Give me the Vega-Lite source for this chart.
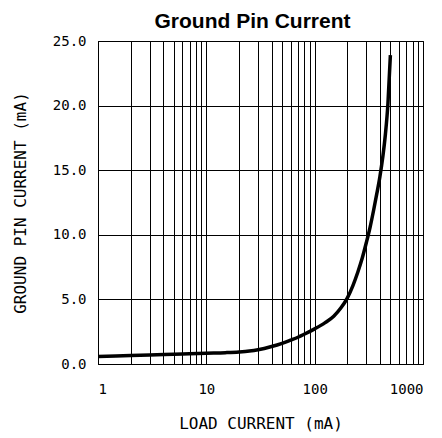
{
  "$schema": "https://vega.github.io/schema/vega-lite/v6.json",
  "autosize": {"type": "none"},
  "width": 325,
  "height": 323,
  "padding": {"left": 98, "top": 41, "right": 19, "bottom": 74},
  "background": "white",
  "title": {
    "text": "Ground Pin Current",
    "font": "Liberation Sans",
    "fontWeight": "bold",
    "fontSize": 21,
    "color": "black",
    "anchor": "middle",
    "dx": -8,
    "offset": 2
  },
  "config": {
    "view": {"stroke": "black", "strokeWidth": 1}
  },
  "data": {
    "values": [
      {"load": 1, "ground": 0.59},
      {"load": 2, "ground": 0.66},
      {"load": 3, "ground": 0.7},
      {"load": 5, "ground": 0.76},
      {"load": 7, "ground": 0.8},
      {"load": 10, "ground": 0.84},
      {"load": 15, "ground": 0.88},
      {"load": 20, "ground": 0.93},
      {"load": 25, "ground": 1.0},
      {"load": 30, "ground": 1.1},
      {"load": 40, "ground": 1.35},
      {"load": 50, "ground": 1.6},
      {"load": 60, "ground": 1.85},
      {"load": 70, "ground": 2.07},
      {"load": 80, "ground": 2.3},
      {"load": 100, "ground": 2.72},
      {"load": 125, "ground": 3.2},
      {"load": 150, "ground": 3.7},
      {"load": 175, "ground": 4.35},
      {"load": 200, "ground": 5.1},
      {"load": 225, "ground": 6.05},
      {"load": 250, "ground": 7.1},
      {"load": 275, "ground": 8.2},
      {"load": 300, "ground": 9.4},
      {"load": 325, "ground": 10.6},
      {"load": 350, "ground": 11.9},
      {"load": 375, "ground": 13.2},
      {"load": 400, "ground": 14.5},
      {"load": 425, "ground": 16.0},
      {"load": 450, "ground": 17.8},
      {"load": 475, "ground": 20.2},
      {"load": 500, "ground": 23.9}
    ]
  },
  "mark": {"type": "line", "color": "black", "strokeWidth": 3.5, "interpolate": "monotone", "strokeCap": "butt"},
  "encoding": {
    "x": {
      "field": "load",
      "type": "quantitative",
      "scale": {"type": "log", "domain": [1, 1000], "nice": false},
      "axis": {
        "title": "LOAD CURRENT (mA)",
        "values": [1,2,3,4,5,6,7,8,9,10,20,30,40,50,60,70,80,90,100,200,300,400,500,600,700,800,900,1000],
        "labelExpr": "datum.value == 1 || datum.value == 10 || datum.value == 100 || datum.value == 1000 ? format(datum.value, 'd') : ''",
        "grid": true,
        "gridColor": "black",
        "gridOpacity": 1,
        "gridWidth": 1,
        "ticks": false,
        "domainColor": "black",
        "labelFont": "DejaVu Sans Mono",
        "labelFontSize": 14,
        "labelColor": "black",
        "labelPadding": 18,
        "labelOverlap": false,
        "titleFont": "DejaVu Sans Mono",
        "titleFontSize": 16,
        "titleFontWeight": "normal",
        "titleColor": "black",
        "titlePadding": 19
      }
    },
    "y": {
      "field": "ground",
      "type": "quantitative",
      "scale": {"domain": [0, 25], "nice": false},
      "axis": {
        "title": "GROUND PIN CURRENT (mA)",
        "values": [0, 5, 10, 15, 20, 25],
        "format": ".1f",
        "grid": true,
        "gridColor": "black",
        "gridOpacity": 1,
        "gridWidth": 1,
        "ticks": false,
        "domainColor": "black",
        "labelFont": "DejaVu Sans Mono",
        "labelFontSize": 14,
        "labelColor": "black",
        "labelPadding": 12,
        "titleFont": "DejaVu Sans Mono",
        "titleFontSize": 16,
        "titleFontWeight": "normal",
        "titleColor": "black",
        "titlePadding": 24
      }
    }
  }
}
